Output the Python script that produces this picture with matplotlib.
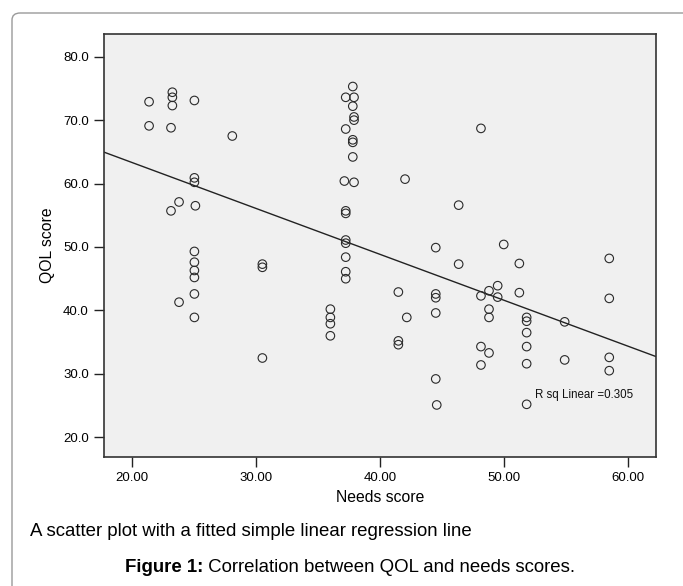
import numpy as np
import matplotlib.pyplot as plt
from matplotlib.patches import FancyBboxPatch

#==================================
# Data
needs = [21.35, 21.35,
         23.23, 23.23, 23.23, 23.12, 23.77, 23.12, 23.77,
         25.01, 25.01, 25.01, 25.09, 25.01, 25.01, 25.01, 25.01, 25.01, 25.01,
         28.07,
         30.50, 30.50, 30.50,
         35.99, 35.99, 35.99, 35.99,
         37.80, 37.23, 37.90, 37.80, 37.90, 37.90, 37.23, 37.80, 37.80, 37.80,
         37.12, 37.90, 37.23, 37.23, 37.23, 37.23, 37.23, 37.23, 37.23,
         41.48, 41.48, 41.48,
         42.02, 42.16,
         44.50, 44.50, 44.50, 44.50, 44.50, 44.58,
         46.35, 46.35,
         48.15, 48.15, 48.15, 48.15,
         48.80, 48.80, 48.80, 48.80,
         49.50, 49.50,
         49.99,
         51.25, 51.25,
         51.84, 51.84, 51.84, 51.84, 51.84, 51.84,
         54.91, 54.91,
         58.51, 58.51, 58.51, 58.51]
qol = [72.9, 69.1,
       74.4, 73.6, 72.3, 68.8, 57.1, 55.7, 41.3,
       73.1, 60.9, 60.2, 56.5, 49.3, 47.6, 46.3, 45.2, 42.6, 38.9,
       67.5,
       47.3, 46.8, 32.5,
       40.2, 38.9, 37.9, 36.0,
       75.3, 73.6, 73.6, 72.2, 70.5, 70.0, 68.6, 66.9, 66.5, 64.2,
       60.4, 60.2, 55.7, 55.3, 51.1, 50.6, 48.4, 46.1, 45.0,
       42.9, 35.2, 34.6,
       60.7, 38.9,
       49.9, 42.6, 42.0, 39.6, 29.2, 25.1,
       56.6, 47.3,
       68.7, 42.3, 34.3, 31.4,
       43.1, 40.2, 38.9, 33.3,
       43.9, 42.1,
       50.4,
       47.4, 42.8,
       38.9, 38.3, 36.5, 34.3, 31.6, 25.2,
       38.2, 32.2,
       48.2, 41.9, 32.6, 30.5]
xTicks = [20, 30, 40, 50, 60]
yTicks = [20, 30, 40, 50, 60, 70, 80]
rsqText = 'R sq Linear =0.305'

# fitted line as drawn in the figure
fitIntercept = 77.76
fitSlope = -0.723

plt.rcParams['font.family'] = ['Liberation Sans', 'DejaVu Sans']

fig = plt.figure(figsize=(6.83, 5.86), dpi=100, facecolor='w')

# rounded frame around the figure panel
frame = FancyBboxPatch((12/683, -0.1), 1.0, (586-13)/586 + 0.1,
                       boxstyle='round,pad=0,rounding_size=0.012',
                       transform=fig.transFigure, facecolor='none',
                       edgecolor='#9a9a9a', linewidth=1.0, clip_on=False)
fig.add_artist(frame)

ax = fig.add_axes([104/683, (586-456.7)/586, (656.3-104)/683, (456.7-34)/586])
ax.set_facecolor('#f0f0f0')

ax.scatter(needs, qol, s=38, facecolors='none', edgecolors='#2a2a2a', linewidths=0.8, zorder=3)

xl = np.array([17.71, 62.31])
ax.plot(xl, fitIntercept + fitSlope * xl, color='#222222', linewidth=1.0, zorder=2)

ax.text(60.45, 26.67, rsqText, ha='right', va='center', fontsize=8.3, color='#111111')

ax.set_xlim(17.71, 62.31)
ax.set_ylim(16.94, 83.58)
ax.set_xticks(xTicks)
ax.set_xticklabels(['%.2f' % v for v in xTicks])
ax.set_yticks(yTicks)
ax.set_yticklabels(['%.1f' % v for v in yTicks])
ax.tick_params(direction='out', length=7, width=1.0, color='#222222', labelsize=9.5, pad=4)
for sp in ax.spines.values():
	sp.set_color('#333333')
	sp.set_linewidth(1.2)

ax.set_xlabel('Needs score', fontsize=11.3, labelpad=4)
ax.set_ylabel('QOL score', fontsize=11.3, labelpad=6)

#==================
# Captions
fig.text(30/683, 1 - 531.7/586, 'A scatter plot with a fitted simple linear regression line',
         ha='left', va='center', fontsize=13.4)
t1 = fig.text(124.6/683, 1 - 567.7/586, 'Figure 1:', ha='left', va='center', fontsize=13.4,
              fontweight='bold')
ax.annotate(' Correlation between QOL and needs scores.', xy=(1, 0.5), xycoords=t1,
            ha='left', va='center', fontsize=13.4, annotation_clip=False)

fig.savefig('out.png', dpi=100, facecolor='w')
